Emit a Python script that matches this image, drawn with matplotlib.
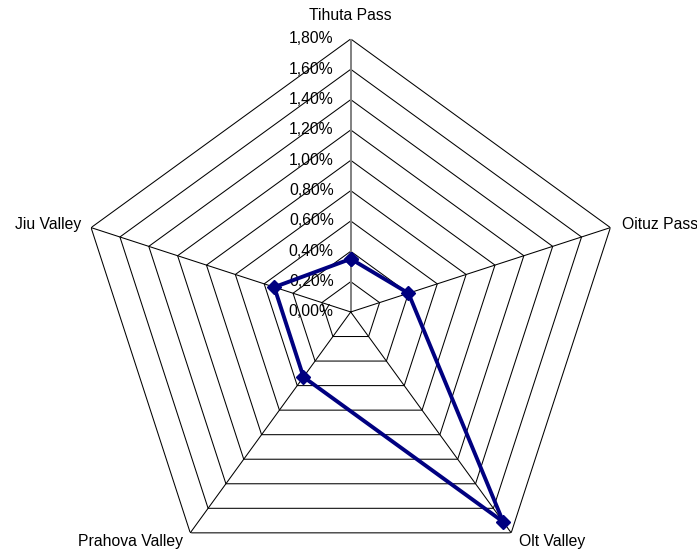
import numpy as np
import matplotlib
matplotlib.use("Agg")
import matplotlib.pyplot as plt

plt.rcParams['font.family'] = ['Liberation Sans', 'DejaVu Sans']

categories = ["Tihuta Pass", "Oituz Pass", "Olt Valley", "Prahova Valley", "Jiu Valley"]
values = [0.35, 0.40, 1.71, 0.53, 0.53]          # percent
ring_levels = [0.0, 0.2, 0.4, 0.6, 0.8, 1.0, 1.2, 1.4, 1.6, 1.8]
ring_labels = ["0,00%", "0,20%", "0,40%", "0,60%", "0,80%",
               "1,00%", "1,20%", "1,40%", "1,60%", "1,80%"]
rmax = 1.8

fig = plt.figure(figsize=(6.97, 5.51), dpi=100)
ax = fig.add_axes([0.1115, -0.0617, 0.7834, 0.991], projection='polar')
ax.set_theta_zero_location('N')
ax.set_theta_direction(-1)
ax.set_ylim(0, rmax)
ax.axis('off')

n = len(categories)
theta = np.linspace(0, 2 * np.pi, n, endpoint=False)
theta_closed = np.append(theta, theta[0])

# pentagonal grid rings
for r in ring_levels[1:]:
    ax.plot(theta_closed, [r] * (n + 1), color='black', lw=0.75, zorder=1)

# spokes (the value axis is gray)
for i, t in enumerate(theta):
    col = '#808080' if i == 0 else 'black'
    lw = 1.4 if i == 0 else 0.75
    ax.plot([t, t], [0, rmax], color=col, lw=lw, zorder=2)

# value-axis tick labels
for r, lab in zip(ring_levels, ring_labels):
    ax.annotate(lab, xy=(0, r), xytext=(-17, 0), textcoords='offset pixels',
                ha='right', va='center', fontsize=11.3, color='black', zorder=3)

# category labels
offsets = [(0, 23, 'center', 'center'),
           (12, 3, 'left', 'center'),
           (8, -9, 'left', 'center'),
           (-7, -9, 'right', 'center'),
           (-10, 3, 'right', 'center')]
for t, lab, (dx, dy, ha, va) in zip(theta, categories, offsets):
    ax.annotate(lab, xy=(t, rmax), xytext=(dx, dy), textcoords='offset pixels',
                ha=ha, va=va, fontsize=11.3, color='black', zorder=3)

# data series
vals_closed = values + values[:1]
ax.plot(theta_closed, vals_closed, color='#000080', lw=2.8, marker='D',
        markersize=7, markerfacecolor='#000080', markeredgecolor='#000080',
        zorder=5, clip_on=False)

fig.savefig("out.png", dpi=100)
